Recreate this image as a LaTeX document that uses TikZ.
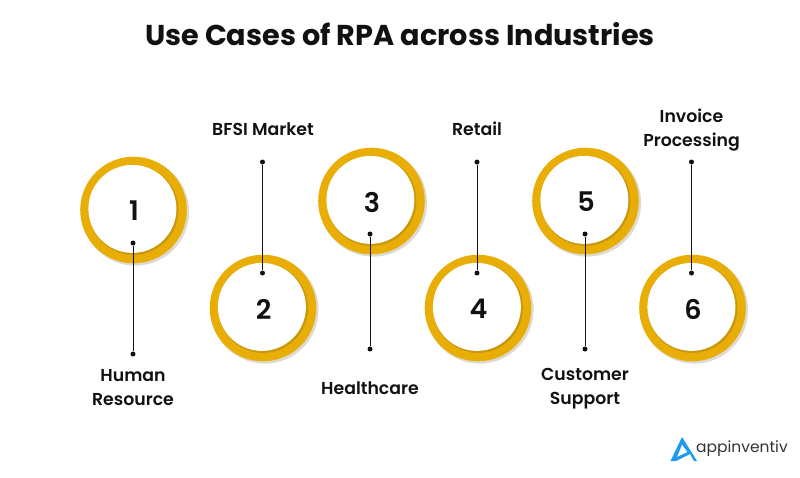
\documentclass[tikz,border=0pt]{standalone}
\usepackage{fontspec}
\setmainfont{Poppins}[BoldFont={Poppins SemiBold}]
\newfontfamily\titlefont{Poppins Bold}
\definecolor{ringc}{HTML}{E8AE06}
\definecolor{ringd}{HTML}{C8970C}
\definecolor{shad}{HTML}{DDDAD2}
\definecolor{inkc}{HTML}{111111}
\definecolor{logob}{HTML}{1E9BF0}
\definecolor{logot}{HTML}{333333}
\tikzset{
  x=1pt,y=-1pt,
  labeltext/.style={font=\fontsize{17.3}{24}\selectfont\bfseries,text=inkc,align=center,inner sep=0pt},
  numtext/.style={font=\fontsize{27}{30}\selectfont\bfseries,text=inkc,inner sep=0pt},
  dotn/.style={circle,fill=inkc,minimum size=5pt,inner sep=0pt},
  link/.style={draw=inkc,line width=1pt},
  ringshadow/.style={fill=shad,draw=none},
  ringouter/.style={fill=ringc,draw=none},
  ringinner/.style={fill=white,draw=none}
}
\newcommand{\ringat}[3]{%
  \fill[ringshadow] (#1+1.8,#2+1.8) circle[radius=53.8];
  \fill[ringouter] (#1,#2) circle[radius=53.3];
  \fill[ringd] (#1+.1,#2+.1) circle[radius=44.8];
  \fill[ringinner] (#1-1.1,#2-1.1) circle[radius=44];
  \node[numtext] (n#3) at (#1+.5,#2+1) {#3};
}
\begin{document}
\begin{tikzpicture}
\useasboundingbox (0,0) rectangle (800,477);
\fill[white] (0,0) rectangle (800,477);
\node[font=\fontsize{28.7}{34}\selectfont\titlefont,text=inkc,inner sep=0pt] (title) at (400,34) {Use Cases of RPA across Industries};
\ringat{133.5}{210}{1}
\ringat{263}{308}{2}
\ringat{371.5}{201}{3}
\ringat{478}{308}{4}
\ringat{585.5}{201}{5}
\ringat{692.5}{308}{6}
\node[dotn] (a1) at (133,243) {}; \node[dotn] (b1) at (133,354) {};
\node[dotn] (a2) at (262.5,162) {}; \node[dotn] (b2) at (262.5,273) {};
\node[dotn] (a3) at (370,234) {}; \node[dotn] (b3) at (370,349) {};
\node[dotn] (a4) at (477,162) {}; \node[dotn] (b4) at (477,273) {};
\node[dotn] (a5) at (585,234) {}; \node[dotn] (b5) at (585,349) {};
\node[dotn] (a6) at (691.5,162) {}; \node[dotn] (b6) at (691.5,273) {};
\foreach \i in {1,...,6} \draw[link] (a\i) -- (b\i);
\node[labeltext] (l1) at (133,388) {Human\\Resource};
\node[labeltext] (l2) at (263,129) {BFSI Market};
\node[labeltext] (l3) at (370,388) {Healthcare};
\node[labeltext] (l4) at (477,129) {Retail};
\node[labeltext] (l5) at (585,389) {Customer\\Support};
\node[labeltext] (l6) at (691.5,130) {Invoice\\Processing};
\fill[logob,even odd rule] (682,437) -- (670.5,461) -- (676,461) -- (690,454) -- (694,461) -- (697,461) -- cycle
 (682,444.5) -- (687.5,452) -- (677,457) -- cycle;
\node[anchor=west,font=\fontsize{15.5}{20}\selectfont,text=logot,inner sep=0pt] (logo) at (696,449) {appinventiv};
\end{tikzpicture}
\end{document}
